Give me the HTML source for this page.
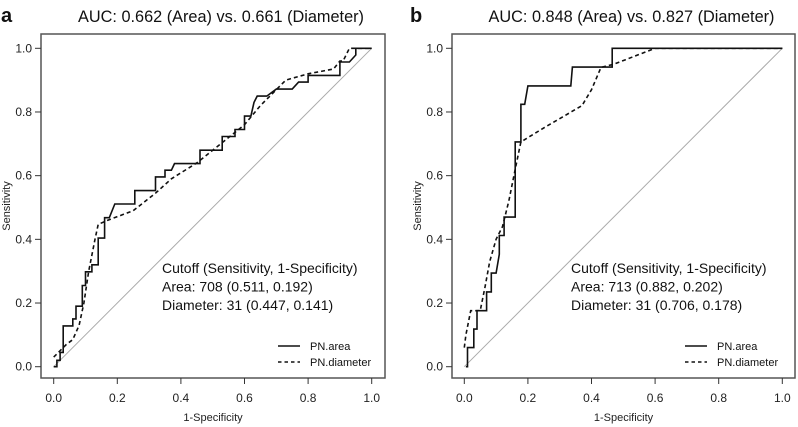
<!DOCTYPE html>
<html><head><meta charset="utf-8"><style>
html,body{margin:0;padding:0;background:#fff;}
svg{display:block;font-family:"Liberation Sans",Arial,sans-serif;}
</style></head><body>
<svg id="chart" width="798" height="427" viewBox="0 0 798 427"></svg>
<script>
// Panel a data
const aAreaX = [0,0.01,0.01,0.02,0.02,0.03,0.03,0.06,0.06,0.07,0.07,0.09,0.09,0.1,0.1,0.12,0.12,0.14,0.14,0.16,0.16,0.175,0.192,0.255,0.255,0.32,0.32,0.35,0.35,0.37,0.38,0.46,0.46,0.53,0.53,0.57,0.57,0.60,0.60,0.62,0.63,0.64,0.67,0.7,0.75,0.77,0.80,0.80,0.90,0.90,0.93,0.95,0.95,1];
const aAreaY = [0,0,0.02,0.02,0.045,0.045,0.128,0.128,0.15,0.15,0.19,0.19,0.255,0.255,0.298,0.298,0.32,0.32,0.404,0.404,0.468,0.468,0.511,0.511,0.553,0.553,0.596,0.596,0.617,0.617,0.638,0.638,0.68,0.68,0.723,0.723,0.745,0.745,0.787,0.787,0.83,0.85,0.85,0.872,0.872,0.894,0.894,0.915,0.915,0.957,0.957,0.979,1,1];
const aDiamX = [0,0.03,0.04,0.06,0.08,0.095,0.11,0.13,0.14,0.17,0.25,0.32,0.37,0.45,0.5,0.55,0.6,0.65,0.7,0.73,0.8,0.88,0.9,0.91,0.93,0.95,1];
const aDiamY = [0.03,0.06,0.07,0.085,0.13,0.2,0.3,0.4,0.447,0.46,0.49,0.545,0.59,0.64,0.68,0.72,0.76,0.82,0.87,0.9,0.92,0.935,0.96,0.96,1,1,1];
// Panel b data
const bAreaX = [0.005,0.01,0.01,0.03,0.03,0.04,0.04,0.07,0.07,0.085,0.085,0.1,0.11,0.11,0.125,0.125,0.16,0.16,0.178,0.178,0.19,0.2,0.335,0.34,0.465,0.465,1];
const bAreaY = [0,0,0.06,0.06,0.118,0.118,0.176,0.176,0.235,0.235,0.294,0.294,0.353,0.412,0.412,0.47,0.47,0.706,0.706,0.824,0.824,0.882,0.882,0.941,0.941,1,1];
const bDiamX = [0,0.005,0.02,0.05,0.065,0.08,0.1,0.12,0.14,0.16,0.178,0.25,0.37,0.4,0.43,0.47,0.6,1];
const bDiamY = [0.06,0.1,0.176,0.176,0.25,0.33,0.4,0.44,0.52,0.62,0.706,0.75,0.82,0.87,0.94,0.95,1,1];
const ticks = [0,0.2,0.4,0.6,0.8,1.0];
const tickLabels = ["0.0","0.2","0.4","0.6","0.8","1.0"];

const NS="http://www.w3.org/2000/svg";
const svg=document.getElementById('chart');
function mk(tag,attrs,parent){const e=document.createElementNS(NS,tag);for(const k in attrs)e.setAttribute(k,attrs[k]);(parent||svg).appendChild(e);return e;}

function panel(p){
  const g=mk('g',{});
  
  
  const sx=v=>p.x0+v*(p.x1-p.x0);
  const sy=v=>p.y0+v*(p.y1-p.y0);
  const box=mk('rect',{x:p.bx0,y:34,width:p.bx1-p.bx0,height:344,fill:'none',stroke:'#555','stroke-width':1.5},g);
  
  
  const diag=mk('line',{x1:sx(0),y1:sy(0),x2:sx(1),y2:sy(1),stroke:'#aaa','stroke-width':1},g);
  
  
  ticks.forEach((t,i)=>{
    const tx=mk('line',{x1:sx(t),x2:sx(t),y1:378,y2:384,stroke:'#333','stroke-width':1},g);
    
    
    const lx=mk('text',{x:sx(t),y:402,'font-size':12,'text-anchor':'middle',fill:'#222'},g);
    lx.textContent=tickLabels[i];
    
    
    const ty=mk('line',{x1:p.bx0-6,x2:p.bx0,y1:sy(t),y2:sy(t),stroke:'#333','stroke-width':1},g);
    
    
    const ly=mk('text',{x:p.bx0-9,y:sy(t)+4,'font-size':12,'text-anchor':'end',fill:'#222'},g);
    ly.textContent=tickLabels[i];
    
    
  });
  const xt=mk('text',{x:(p.bx0+p.bx1)/2,y:421,'font-size':11,'text-anchor':'middle',fill:'#222'},g);
  xt.textContent='1-Specificity';
  
  
  const yt=mk('text',{x:0,y:0,'font-size':11,'text-anchor':'middle',fill:'#222',transform:`translate(${p.bx0-31},206) rotate(-90)`},g);
  yt.textContent='Sensitivity';
  
  
  const ti=mk('text',{x:(p.bx0+p.bx1)/2+8,y:22,'font-size':16.3,'text-anchor':'middle',fill:'#111'},g);
  ti.textContent=p.title;
  
  
  const lt=mk('text',{x:p.lx,y:22,'font-size':20,'font-weight':'bold',fill:'#111'},g);
  lt.textContent=p.id;
  
  
  const pts=(X,Y)=>X.map((v,i)=>sx(v).toFixed(1)+','+sy(Y[i]).toFixed(1)).join(' ');
  const la=mk('polyline',{points:pts(p.ax,p.ay),fill:'none',stroke:'#111','stroke-width':1.6},g);
  
  
  const ld=mk('polyline',{points:pts(p.dx,p.dy),fill:'none',stroke:'#111','stroke-width':1.6,'stroke-dasharray':'4,3'},g);
  
  
  p.notes.forEach((n,i)=>{
    const t=mk('text',{x:p.tx,y:273+i*18.5,'font-size':14,fill:'#111'},g);
    t.textContent=n;
    
    
  });
  const leg=mk('g',{},g);
  
  
  mk('line',{x1:p.legx,x2:p.legx+22,y1:346,y2:346,stroke:'#111','stroke-width':1.4},leg);
  mk('line',{x1:p.legx,x2:p.legx+22,y1:362,y2:362,stroke:'#111','stroke-width':1.4,'stroke-dasharray':'3.5,3'},leg);
  const e1=mk('text',{x:p.legx+32,y:350,'font-size':11,fill:'#111'},leg);
  e1.textContent='PN.area';
  
  
  const e2=mk('text',{x:p.legx+32,y:366,'font-size':11,fill:'#111'},leg);
  e2.textContent='PN.diameter';
  
  
}
panel({id:'a',bx0:41,bx1:385,x0:53.7,x1:371.7,y0:366.7,y1:48.3,lx:1,tx:162,legx:278,
  title:'AUC: 0.662 (Area) vs. 0.661 (Diameter)',ax:aAreaX,ay:aAreaY,dx:aDiamX,dy:aDiamY,
  notes:['Cutoff (Sensitivity, 1-Specificity)','Area: 708 (0.511, 0.192)','Diameter: 31 (0.447, 0.141)']});
panel({id:'b',bx0:452,bx1:795,x0:464.3,x1:782.3,y0:366.7,y1:48.3,lx:410,tx:571,legx:685,
  title:'AUC: 0.848 (Area) vs. 0.827 (Diameter)',ax:bAreaX,ay:bAreaY,dx:bDiamX,dy:bDiamY,
  notes:['Cutoff (Sensitivity, 1-Specificity)','Area: 713 (0.882, 0.202)','Diameter: 31 (0.706, 0.178)']});
</script>
</body></html>
